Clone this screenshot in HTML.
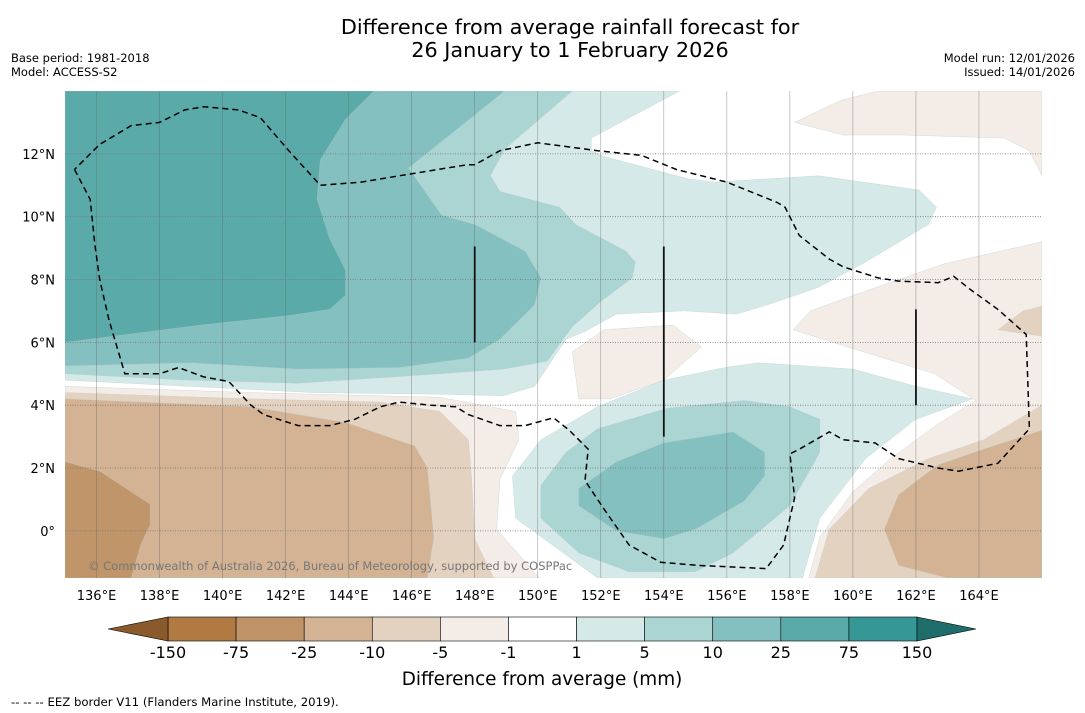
<!DOCTYPE html>
<html><head><meta charset="utf-8"><style>
html,body{margin:0;padding:0;background:#fff}
svg{display:block;font-family:"DejaVu Sans","Liberation Sans",sans-serif}
</style></head><body>
<svg id="c" width="1085" height="713" viewBox="0 0 1085 713" xmlns="http://www.w3.org/2000/svg">
<text x="570" y="34" text-anchor="middle" font-size="20.8">Difference from average rainfall forecast for</text>
<text x="570" y="57" text-anchor="middle" font-size="20.8">26 January to 1 February 2026</text>
<text x="11" y="62" font-size="11.5">Base period: 1981-2018</text>
<text x="11" y="76" font-size="11.5">Model: ACCESS-S2</text>
<text x="1075" y="62" font-size="11.5" text-anchor="end">Model run: 12/01/2026</text>
<text x="1075" y="76" font-size="11.5" text-anchor="end">Issued: 14/01/2026</text>
<defs><clipPath id="mapclip"><rect x="65" y="91" width="977" height="487"/></clipPath></defs>
<g id="map" clip-path="url(#mapclip)"></g>
<g id="axes"></g>
<g id="cbar"></g>
<text x="542" y="685" text-anchor="middle" font-size="18.4">Difference from average (mm)</text>
<text x="11" y="706" font-size="11.7">--  --  -- EEZ border V11 (Flanders Marine Institute, 2019).</text>
</svg>
<script>
const lonTicks=[136,138,140,142,144,146,148,150,152,154,156,158,160,162,164];
const latTicks=[0,2,4,6,8,10,12];
const cbLabels=["-150","-75","-25","-10","-5","-1","1","5","10","25","75","150"];
const cbColors=["#b07a42","#bf9367","#d3b394","#e4d2c0","#f4ede7","#ffffff","#d5eae8","#aad5d3","#84c0bf","#5aaaa9","#369896"];
const cbLow="#8a5a2c", cbHigh="#1f6d6b";
// contour regions in [lon,lat]
const regionColors={beige75:"#bf9569",beige25:"#d3b394",beige10:"#e4d2c0",beige5:"#f4ede7",teal1:"#d5eae8",teal5:"#aad5d3",teal10:"#84c0bf",teal25:"#5aaaa9"};
const beige5A=[[135,4.6],[140.9,4.4],[146.9,4.25],[149.3,3.8],[149.4,2.9],[148.8,1.65],[148.7,0.05],[150.05,-1.5],[135,-1.5]];
const beige5B=[[151.3,4.2],[151.1,5.7],[152.1,6.4],[154.3,6.55],[155.2,5.85],[154,4.8],[152.3,4.2]];
const beige5C=[[158.15,13.0],[159.6,13.7],[160.8,14],[166,14],[166,11.3],[165.6,12.1],[164.8,12.5],[161.6,12.6],[159.7,12.6]];
const beige5D=[[158.1,6.4],[158.65,7.0],[160.3,7.6],[162.9,8.5],[166,9.2],[166,-1.5],[158.6,-1.5],[158.95,-0.2],[160,1.25],[161.2,2.3],[162.7,3.4],[163.9,4.15],[162.6,5.0],[160,5.8]];
const beige10A=[[135,4.4],[140.9,4.2],[145,4.1],[146.9,3.8],[147.8,2.9],[147.9,1.65],[148,-0.25],[148.6,-1.5],[135,-1.5]];
const beige10B=[[158.8,-1.5],[159.25,0.05],[160.5,1.35],[162.4,2.3],[164.15,2.9],[166,4.0],[166,-1.5]];
const beige10C=[[164.6,6.4],[165.4,7.0],[166,7.15],[166,6.2]];
const beige25A=[[135,4.2],[140.9,3.95],[143.9,3.45],[146.1,2.7],[146.5,2.0],[146.7,-0.2],[146.5,-1.5],[135,-1.5]];
const beige25B=[[163,-1.5],[161.45,-1.1],[161,0.05],[161.45,1.15],[162.7,2.1],[164.15,2.6],[166,3.2],[166,-1.5]];
const beige75A=[[135,2.2],[136.1,1.9],[137.7,0.85],[137.7,0.2],[137.4,-0.45],[137.1,-1.5],[135,-1.5]];
const teal1N=[[135,14],[154.5,14],[151.7,12.5],[151.7,12.1],[152.15,11.9],[154.8,11.2],[155.6,11.1],[158.9,11.3],[162.1,10.85],[162.65,10.3],[162.4,9.75],[160.3,8.5],[158.9,7.75],[157.3,7.2],[156.3,6.9],[154.65,7.0],[152.5,6.9],[151.5,6.35],[150.9,6.1],[149.9,4.6],[148.9,4.3],[146.9,4.35],[142.9,4.4],[135,4.8]];
const teal5N=[[135,14],[151.1,14],[150.05,13.1],[148.95,12.15],[148.5,11.3],[148.8,10.8],[150.7,10.3],[151.2,9.75],[152.8,8.9],[153.1,8.55],[153.0,8.05],[152.0,7.3],[151.1,6.5],[150.3,5.4],[148.9,5.15],[146.9,5.0],[142.4,4.7],[138.9,4.8],[135,5.0]];
const teal10N=[[135,14],[148.95,14],[145.9,11.55],[146.95,10.05],[148,9.75],[149.6,8.9],[150.1,8.05],[149.9,7.2],[148.8,6.1],[147.8,5.5],[145.6,5.2],[142.4,5.15],[139,5.35],[135,5.25]];
const teal25N=[[135,14],[144.8,14],[143.9,13.1],[143.1,11.8],[143.0,10.55],[143.4,9.3],[143.9,8.3],[143.9,7.5],[143.4,7.05],[142.1,6.85],[139.3,6.55],[135,6.0]];
const teal1S=[[157,5.35],[160,5.15],[162,4.6],[163.8,4.2],[162,3.55],[160.4,2.3],[158.95,0.4],[158.4,-1.5],[151.9,-1.5],[149.3,0.4],[149.2,1.75],[150.1,2.9],[151.9,3.95],[154,4.8],[155.95,5.2]];
const teal5S=[[156.55,4.15],[158.0,3.95],[158.95,3.55],[158.95,2.5],[158.0,0.8],[156.2,-0.7],[155.0,-1.3],[152.9,-1.3],[151.3,-0.7],[150.1,0.4],[150.1,1.45],[150.9,2.5],[151.9,3.25],[154.1,3.9]];
const teal10S=[[156.2,3.15],[157.2,2.5],[157.2,1.75],[156.55,0.95],[155,0.05],[154,-0.25],[152.5,0],[151.3,0.8],[151.3,1.35],[152.5,2.2],[154,2.8]];
const eezLine=[[135.3,11.5],[135.8,10.55],[135.95,9.1],[136.1,8.0],[136.4,6.7],[136.9,5.0],[138,5.0],[138.6,5.2],[139.4,4.9],[140.2,4.75],[140.9,4.0],[141.3,3.7],[142.4,3.35],[143.4,3.35],[144.2,3.55],[145,3.95],[145.6,4.1],[146.6,4.0],[147.4,3.95],[147.8,3.7],[148.8,3.35],[149.6,3.35],[150.5,3.6],[151,3.2],[151.6,2.6],[151.5,1.6],[152.1,0.7],[152.9,-0.45],[153.9,-1.0],[155.1,-1.1],[157.25,-1.2],[157.8,-0.45],[158.15,1.05],[158,2.45],[158.3,2.6],[159.25,3.15],[159.7,2.9],[160.7,2.8],[161.45,2.3],[162.7,2.0],[163.35,1.9],[164.6,2.15],[165.6,3.25],[165.5,6.25],[164.6,7.05],[163.7,7.7],[163.2,8.1],[162.7,7.9],[161.45,7.95],[160.8,8.05],[159.7,8.4],[159.25,8.65],[158.3,9.4],[157.85,10.3],[157.6,10.45],[156,11.1],[154.4,11.5],[153.3,11.95],[151.9,12.1],[150,12.35],[148.8,12.1],[148,11.65],[147.75,11.65],[145.6,11.3],[144.4,11.1],[143.1,11.0],[142.1,12.1],[141.2,13.15],[140.5,13.4],[139.4,13.5],[138.8,13.4],[138,13.0],[137.1,12.9],[136.1,12.3],[135.3,11.5]];
const eezSegments=[[148,9.05,6.0],[154,9.05,3.0],[162,7.05,4.0]];

const X0=65,X1=1042,Y0=91,Y1=578,LON0=135,LON1=166,LAT0=14,LAT1=-1.5;
const xS=lon=>X0+(lon-LON0)/(LON1-LON0)*(X1-X0);
const yS=lat=>Y0+(LAT0-lat)/(LAT0-LAT1)*(Y1-Y0);
const NS="http://www.w3.org/2000/svg";
function mk(tag,attrs,parent){const e=document.createElementNS(NS,tag);for(const k in attrs)e.setAttribute(k,attrs[k]);parent.appendChild(e);return e;}
const map=document.getElementById('map'),axes=document.getElementById('axes'),cbar=document.getElementById('cbar');
const pts=a=>a.map(p=>xS(p[0]).toFixed(1)+","+yS(p[1]).toFixed(1)).join(" ");
const layers=[["beige5",beige5A],["beige5",beige5B],["beige5",beige5C],["beige5",beige5D],["beige10",beige10A],["beige10",beige10B],["beige10",beige10C],["beige25",beige25A],["beige25",beige25B],["beige75",beige75A],["teal1",teal1N],["teal5",teal5N],["teal10",teal10N],["teal25",teal25N],["teal1",teal1S],["teal5",teal5S],["teal10",teal10S]];
layers.forEach(([k,a])=>{
  const p=mk('polygon',{points:pts(a),fill:regionColors[k],stroke:"#b8c8c8","stroke-width":"0.5","stroke-opacity":"0.6"},map);
  
  
});
lonTicks.forEach(l=>{
  const g=mk('line',{x1:xS(l),x2:xS(l),y1:Y0,y2:Y1,stroke:"#666","stroke-width":"0.6","stroke-opacity":"0.6"},map);
  
  
  const t=mk('text',{x:xS(l),y:600,"text-anchor":"middle","font-size":"13"},axes);t.textContent=l+"°E";
  
  
});
latTicks.forEach(l=>{
  const g=mk('line',{x1:X0,x2:X1,y1:yS(l),y2:yS(l),stroke:"#777","stroke-width":"0.8","stroke-dasharray":"1,1.5"},map);
  
  
  const t=mk('text',{x:55,y:yS(l)+5,"text-anchor":"end","font-size":"13"},axes);t.textContent=l===0?"0°":l+"°N";
  
  
});
const eez=mk('polyline',{points:pts(eezLine),fill:"none",stroke:"#000","stroke-width":"1.5","stroke-dasharray":"6,4"},map);


eezSegments.forEach(s=>{
  const l=mk('line',{x1:xS(s[0]),x2:xS(s[0]),y1:yS(s[1]),y2:yS(s[2]),stroke:"#111","stroke-width":"1.8"},map);
  
  
});
const cp=mk('text',{x:88,y:570,"font-size":"11.5",fill:"#777"},map);cp.textContent="© Commonwealth of Australia 2026, Bureau of Meteorology, supported by COSPPac";


// colorbar
const CB0=168,CB1=917,CBY=617,CBH=24,W=(CB1-CB0)/cbColors.length;
cbColors.forEach((c,i)=>{
  const r=mk('rect',{x:CB0+i*W,y:CBY,width:W,height:CBH,fill:c,stroke:"#000","stroke-width":"0.6"},cbar);
  
  
});
const tl=mk('polygon',{points:`${CB0},${CBY} ${CB0-60},${CBY+CBH/2} ${CB0},${CBY+CBH}`,fill:cbLow,stroke:"#000","stroke-width":"0.6"},cbar);


const tr=mk('polygon',{points:`${CB1},${CBY} ${CB1+59},${CBY+CBH/2} ${CB1},${CBY+CBH}`,fill:cbHigh,stroke:"#000","stroke-width":"0.6"},cbar);


cbLabels.forEach((s,i)=>{
  const t=mk('text',{x:CB0+i*W,y:658,"text-anchor":"middle","font-size":"16"},cbar);t.textContent=s;
  
  
});
</script>
</body></html>
